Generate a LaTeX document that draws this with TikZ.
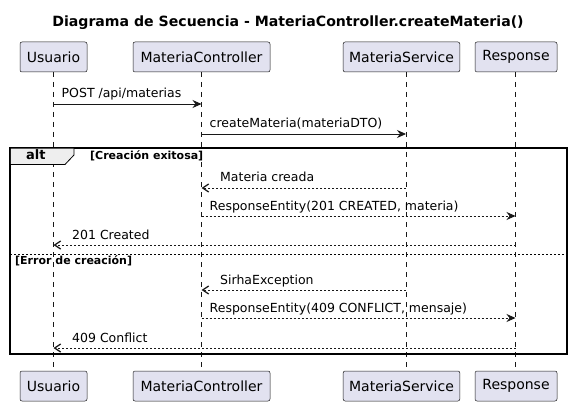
\documentclass[tikz,border=0pt]{standalone}
\usepackage{fontspec}
\setmainfont{DejaVu Sans}
\usetikzlibrary{arrows.meta}
\definecolor{partfill}{HTML}{E2E2F0}
\definecolor{partline}{HTML}{181818}
\definecolor{tabfill}{HTML}{EEEEEE}
\tikzset{
  part/.style={draw=partline, fill=partfill, rounded corners=2pt, line width=0.5pt, minimum height=30pt, inner xsep=6pt, font=\fontsize{14}{16}\selectfont},
  lifeline/.style={draw=partline, line width=0.5pt, dash pattern=on 5pt off 5pt},
  msg/.style={draw=partline, line width=0.8pt, -{Stealth[length=9pt,width=8pt,inset=3pt]}},
  retr/.style={draw=partline, line width=0.8pt, dash pattern=on 2pt off 2pt, -{Stealth[length=9pt,width=8pt,inset=3pt]}},
  retl/.style={draw=partline, line width=0.8pt, dash pattern=on 2pt off 2pt, -{Straight Barb[length=6pt,width=8pt,line width=1.3pt]}},
  lbl/.style={anchor=base west, inner sep=0pt, font=\fontsize{12.5}{14}\selectfont},
  guard/.style={anchor=base west, inner sep=0pt, font=\bfseries\fontsize{11}{13}\selectfont},
}
\begin{document}
\begin{tikzpicture}[x=1pt,y=-1pt]
\useasboundingbox (0,0) rectangle (572,406);
% title
\node[font=\bfseries\fontsize{14.1}{16}\selectfont, anchor=base] (title) at (288,27) {Diagrama de Secuencia - MateriaController.createMateria()};
% participant coordinates
\coordinate (uT) at (53.5,72); \coordinate (uB) at (53.5,371);
\coordinate (cT) at (201.5,72); \coordinate (cB) at (201.5,371);
\coordinate (sT) at (406,72); \coordinate (sB) at (406,371);
\coordinate (rT) at (515.5,72); \coordinate (rB) at (515.5,371);
\draw[lifeline] (uT) -- (uB);
\draw[lifeline] (cT) -- (cB);
\draw[lifeline] (sT) -- (sB);
\draw[lifeline] (rT) -- (rB);
% participants
\node[part, minimum width=67pt] (u1) at (53.5,57) {Usuario};
\node[part, minimum width=137pt] (c1) at (201.5,57) {MateriaController};
\node[part, minimum width=109pt] (s1) at (401.5,57) {MateriaService};
\node[part, minimum width=82pt] (r1) at (516,57) {Response};
\node[part, minimum width=67pt] (u2) at (53.5,386) {Usuario};
\node[part, minimum width=137pt] (c2) at (201.5,386) {MateriaController};
\node[part, minimum width=109pt] (s2) at (401.5,386) {MateriaService};
\node[part, minimum width=82pt] (r2) at (516,386) {Response};
% alt frame
\draw[line width=1.5pt, draw=black] (10,148) rectangle (567,354);
\fill[tabfill] (10.75,148.75) -- (74,148.75) -- (74,155) -- (65,164.5) -- (10.75,164.5) -- cycle;
\draw[line width=0.8pt] (74,148) -- (74,155) -- (65,164.5) -- (10,164.5);
\node[font=\bfseries\fontsize{13}{15}\selectfont, anchor=base west, inner sep=0pt] (alt) at (26,160) {alt};
\node[guard] (g1) at (90,159.5) {[Creación exitosa]};
\draw[line width=0.6pt, dash pattern=on 2pt off 2pt] (10,254) -- (567,254);
\node[guard] (g2) at (15,264) {[Error de creación]};
% message coordinates
\coordinate (m1a) at (53.5,104); \coordinate (m1b) at (201.5,104);
\coordinate (m2a) at (201.5,134); \coordinate (m2b) at (406,134);
\coordinate (m3a) at (406,188); \coordinate (m3b) at (201.5,188);
\coordinate (m4a) at (201.5,216); \coordinate (m4b) at (515.5,216);
\coordinate (m5a) at (515.5,245); \coordinate (m5b) at (53.5,245);
\coordinate (m6a) at (406,290); \coordinate (m6b) at (201.5,290);
\coordinate (m7a) at (201.5,318); \coordinate (m7b) at (515.5,318);
\coordinate (m8a) at (515.5,348); \coordinate (m8b) at (53.5,348);
\draw[msg] (m1a) -- (m1b);
\draw[msg] (m2a) -- (m2b);
\draw[retl] (m3a) -- (m3b);
\draw[retr] (m4a) -- (m4b);
\draw[retl] (m5a) -- (m5b);
\draw[retl] (m6a) -- (m6b);
\draw[retr] (m7a) -- (m7b);
\draw[retl] (m8a) -- (m8b);
% labels
\node[lbl] (t1) at (61.5,98) {POST /api/materias};
\node[lbl] (t2) at (209.5,128) {createMateria(materiaDTO)};
\node[lbl] (t3) at (220,182) {Materia creada};
\node[lbl] (t4) at (209.5,210) {ResponseEntity(201 CREATED, materia)};
\node[lbl] (t5) at (72,239) {201 Created};
\node[lbl] (t6) at (220,284) {SirhaException};
\node[lbl] (t7) at (209.5,312) {ResponseEntity(409 CONFLICT, mensaje)};
\node[lbl] (t8) at (72,342) {409 Conflict};
\end{tikzpicture}
\end{document}
